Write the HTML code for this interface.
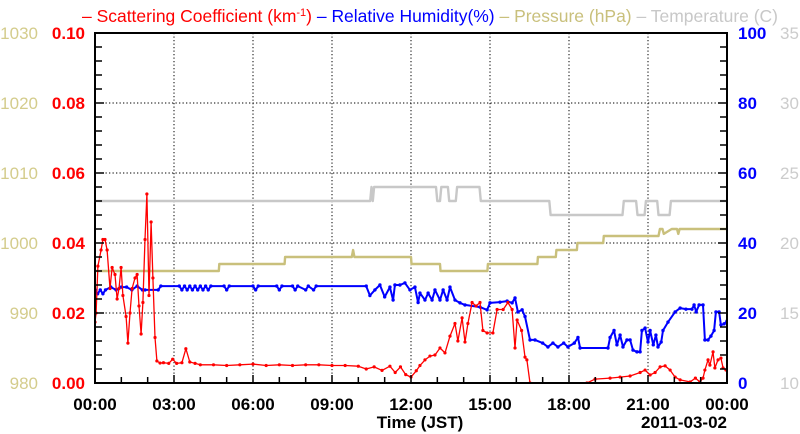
<!DOCTYPE html>
<html><head><meta charset="utf-8"><style>
html,body{margin:0;padding:0;background:#fff;width:800px;height:434px;overflow:hidden}
svg text{font-family:"Liberation Sans",Arial,sans-serif}
</style></head><body>
<svg id="chart" width="800" height="434" viewBox="0 0 800 434">
<defs><clipPath id="plotclip"><rect x="95" y="33" width="632" height="350"/></clipPath></defs>
<text x="82" y="22" font-size="17.5" textLength="696" lengthAdjust="spacingAndGlyphs"><tspan fill="#ff0000">– Scattering Coefficient (km<tspan dy="-6" font-size="11">-1</tspan><tspan dy="6">) </tspan></tspan><tspan fill="#0000ff">– Relative Humidity(%) </tspan><tspan fill="#c9c07c">– Pressure (hPa) </tspan><tspan fill="#c8c8c8">– Temperature (C)</tspan></text>
<g id="grid"></g>
<g id="series" clip-path="url(#plotclip)"></g>
<g id="axes"></g>
</svg>
<script>
const timeTicks=["00:00","03:00","06:00","09:00","12:00","15:00","18:00","21:00","00:00"];
const scTicks=["0.00","0.02","0.04","0.06","0.08","0.10"];
const prTicks=["980","990","1000","1010","1020","1030"];
const rhTicks=["0","20","40","60","80","100"];
const tTicks=["10","15","20","25","30","35"];

const scT=[0,0.04,0.11,0.23,0.30,0.38,0.46,0.57,0.65,0.76,0.84,0.91,0.99,1.06,1.18,1.25,1.33,1.41,1.52,1.60,1.67,1.75,1.82,1.90,1.97,2.05,2.13,2.20,2.28,2.35,2.47,2.6,2.8,2.95,3.1,3.3,3.45,3.6,3.8,4.0,4.5,5,5.5,6,6.5,7,7.5,8,8.5,9,9.5,10,10.3,10.6,10.9,11.2,11.4,11.6,11.8,12.0,12.2,12.34,12.53,12.72,12.91,13.1,13.29,13.48,13.67,13.78,13.94,14.05,14.16,14.32,14.47,14.62,14.73,14.89,15.11,15.27,15.5,15.68,15.84,15.95,16.03,16.2,16.33,16.4,16.52,16.6,18.6,18.68,18.99,19.56,19.94,20.32,20.7,20.89,21.08,21.27,21.46,21.65,21.84,22.03,22.22,22.6,22.8,22.97,23.09,23.16,23.28,23.35,23.47,23.54,23.66,23.77,23.85,23.96];
const scV=[0.0174,0.020,0.0334,0.038,0.041,0.041,0.038,0.027,0.033,0.031,0.024,0.027,0.033,0.025,0.019,0.0114,0.020,0.027,0.030,0.031,0.022,0.014,0.023,0.041,0.054,0.025,0.046,0.030,0.013,0.0063,0.0057,0.0058,0.0056,0.0068,0.0056,0.0058,0.0098,0.006,0.0056,0.0052,0.0052,0.0050,0.0052,0.0054,0.005,0.0052,0.005,0.0052,0.0052,0.005,0.005,0.0048,0.004,0.0046,0.0036,0.0048,0.003,0.0046,0.0024,0.0017,0.0035,0.005,0.0066,0.0077,0.008,0.010,0.0086,0.0134,0.017,0.012,0.0186,0.0117,0.017,0.023,0.022,0.023,0.015,0.0143,0.0143,0.021,0.021,0.023,0.021,0.010,0.018,0.015,0.0074,0.0066,0.0,-0.004,null,0.0,0.0011,0.0014,0.0017,0.002,0.003,0.0037,0.0023,0.003,0.0046,0.0049,0.0037,0.0017,0.0009,0.0003,0.0014,0.0003,0.0014,0.0037,0.0066,0.0051,0.0089,0.0043,0.0066,0.0071,0.0043,0.0037];

const rhT=[0,0.1,0.2,0.3,0.4,0.6,0.8,1.0,1.2,1.4,1.6,1.8,1.9,2.4,2.5,3.2,3.3,3.4,3.5,3.6,3.7,3.8,3.9,4.0,4.1,4.2,4.3,4.4,4.9,5.0,5.1,6.0,6.1,6.2,6.9,7.0,7.1,7.5,7.6,7.7,8.0,8.1,8.3,8.4,10.3,10.44,10.63,10.82,11.0,11.2,11.32,11.39,11.58,11.77,11.96,12.15,12.27,12.34,12.53,12.65,12.8,12.91,13.1,13.22,13.37,13.48,13.67,13.86,14.05,14.62,14.89,15.0,15.38,15.65,15.84,15.95,16.06,16.22,16.33,16.52,16.71,17.0,17.2,17.39,17.58,17.8,17.96,18.2,18.34,18.42,19.48,19.56,19.71,19.82,19.94,20.05,20.2,20.32,20.43,20.58,20.7,20.77,20.89,21.0,21.08,21.2,21.3,21.38,21.5,21.57,21.76,22.03,22.22,22.44,22.67,22.75,22.83,22.94,23.09,23.16,23.28,23.39,23.51,23.58,23.7,23.77,23.89,24];
const rhV=[26.6,25.5,26.6,25.5,26.6,27.4,26.6,27.4,27.4,26.6,27.7,26.6,26.6,26.6,27.7,27.7,26.6,27.7,26.6,27.7,26.6,27.7,26.6,27.7,26.6,27.7,26.6,27.7,27.7,26.6,27.7,27.7,26.6,27.7,27.7,26.6,27.7,27.7,26.6,27.7,26.6,27.7,26.6,27.7,27.7,25,26.6,28,24.6,27.4,23.7,28,28,28.6,26.6,27.4,23,25.7,23.7,25.7,23.7,26.6,23.7,26.6,23.7,27.4,23.7,22.9,22.3,21.7,20.9,22.9,23.1,23.4,22.9,24.3,20.3,20.9,19,12.3,12.3,11.4,10.3,11.4,10.3,11.4,10.3,11.4,13,10,10,13,15,10.9,13.7,10.3,12.3,12.3,9.4,8.9,8.9,15,15.7,11.7,15,10.9,13.7,10.3,11.7,15,17.4,20.3,21.4,21.1,21.1,22.3,20.3,22.3,22.3,12.3,12.3,13.4,15,20.3,20.3,16.6,16.9,17.7];

const prT=[0,4.7,4.72,7.2,7.22,9.75,9.8,9.85,12.0,12.02,13.1,13.12,14.9,14.92,16.8,16.82,17.5,17.52,18.3,18.32,19.3,19.32,21.4,21.45,21.55,21.6,21.9,21.95,22.1,22.15,22.2,24];
const prV=[996,996,997,997,998,998,999,998,998,997,997,996,996,997,997,998,998,999,999,1000,1000,1001,1001,1002,1002,1001.3,1002,1002,1002,1001.3,1002,1002];

const tT=[0,10.45,10.5,10.55,10.6,10.65,12.95,13.0,13.1,13.15,13.4,13.45,13.7,13.75,14.6,14.65,17.25,17.3,20.03,20.08,20.55,20.6,20.87,20.92,21.35,21.4,21.82,21.87,24];
const tV=[23,23,24,23,24,24,24,23,23,24,24,23,23,24,24,23,23,22,22,23,23,22,22,23,23,22,22,23,23];

const X0=95,X1=727,Y0=383,Y1=33;
const NS="http://www.w3.org/2000/svg";
const xs=h=>X0+(X1-X0)*h/24;
const ySc=v=>Y0-(Y0-Y1)*v/0.10;
const yPr=v=>Y0-(Y0-Y1)*(v-980)/50;
const yRh=v=>Y0-(Y0-Y1)*v/100;
const yT=v=>Y0-(Y0-Y1)*(v-10)/25;
function mk(tag,attrs,parent){const e=document.createElementNS(NS,tag);for(const k in attrs)e.setAttribute(k,attrs[k]);parent.appendChild(e);return e;}
const grid=document.getElementById('grid'),series=document.getElementById('series'),axes=document.getElementById('axes');

for(let i=1;i<8;i++){const x=xs(i*3);
 const l=mk('line',{x1:x,x2:x,y1:Y1,y2:Y0,stroke:'#000','stroke-width':1,'stroke-dasharray':'1.3,2.2'},grid);
 
 }
for(let i=1;i<5;i++){const y=ySc(i*0.02);
 const l=mk('line',{x1:X0,x2:X1,y1:y,y2:y,stroke:'#000','stroke-width':1,'stroke-dasharray':'1.3,2.2'},grid);
 
 }

function drawSeries(T,V,yf,color,name,sw,mr){
 let d='';let pen=false;
 for(let i=0;i<T.length;i++){if(V[i]===null){pen=false;continue;}
  d+=(pen?'L':'M')+xs(T[i]).toFixed(1)+','+yf(V[i]).toFixed(1);pen=true;}
 const p=mk('path',{d:d,fill:'none',stroke:color,'stroke-width':sw,'stroke-linejoin':'round'},series);
 
 
 if(mr>0){for(let i=0;i<T.length;i++){if(V[i]===null)continue;
  const c=mk('circle',{cx:xs(T[i]),cy:yf(V[i]),r:mr,fill:color},series);
  
  }}
}
drawSeries(tT,tV,yT,'#c8c8c8','temperature',2.4,0);
drawSeries(prT,prV,yPr,'#c9c07c','pressure',2.4,0);
drawSeries(rhT,rhV,yRh,'#0000ff','humidity',2,1.7);
drawSeries(scT,scV,ySc,'#ff0000','scattering',1.3,1.6);

const fr=mk('rect',{x:X0,y:Y1,width:X1-X0,height:Y0-Y1,fill:'none',stroke:'#000','stroke-width':2},axes);


for(let h=0;h<=24;h++){const x=xs(h);const len=h%3===0?8:6;
 const t=mk('line',{x1:x,x2:x,y1:Y0,y2:Y0-len,stroke:'#000','stroke-width':1.5},axes);
 
 }
for(let i=0;i<=25;i++){const y=Y0-(Y0-Y1)*i/25;const len=i%5===0?9:7;
 const a=mk('line',{x1:X0,x2:X0+len,y1:y,y2:y,stroke:'#000','stroke-width':1.5},axes);
 
 
 const b=mk('line',{x1:X1,x2:X1-len,y1:y,y2:y,stroke:'#000','stroke-width':1.5},axes);
 
 }
function txt(s,x,y,anchor,color,name,size,weight){
 const t=mk('text',{x:x,y:y,'text-anchor':anchor,fill:color,'font-size':size,'font-weight':weight},axes);
 t.textContent=s;
 
 return t;}
for(let i=0;i<9;i++)txt(timeTicks[i],xs(i*3),410,'middle','#000','x-tick-label',17,'bold');
for(let i=0;i<6;i++){const y=Y0-(Y0-Y1)*i/5+6;
 txt(scTicks[i],85,y,'end','#ff0000','scattering-tick-label',17,'bold');
 txt(prTicks[i],38,y,'end','#d4cc8c','pressure-tick-label',17,'normal');
 txt(rhTicks[i],738,y,'start','#0000ff','humidity-tick-label',17,'bold');
 txt(tTicks[i],780,y,'start','#cccccc','temperature-tick-label',17,'normal');}
txt('Time (JST)',420,428,'middle','#000','x-axis-title',17,'bold');
txt('2011-03-02',727,428,'end','#000','date-label',17,'bold');
</script>
</body></html>
